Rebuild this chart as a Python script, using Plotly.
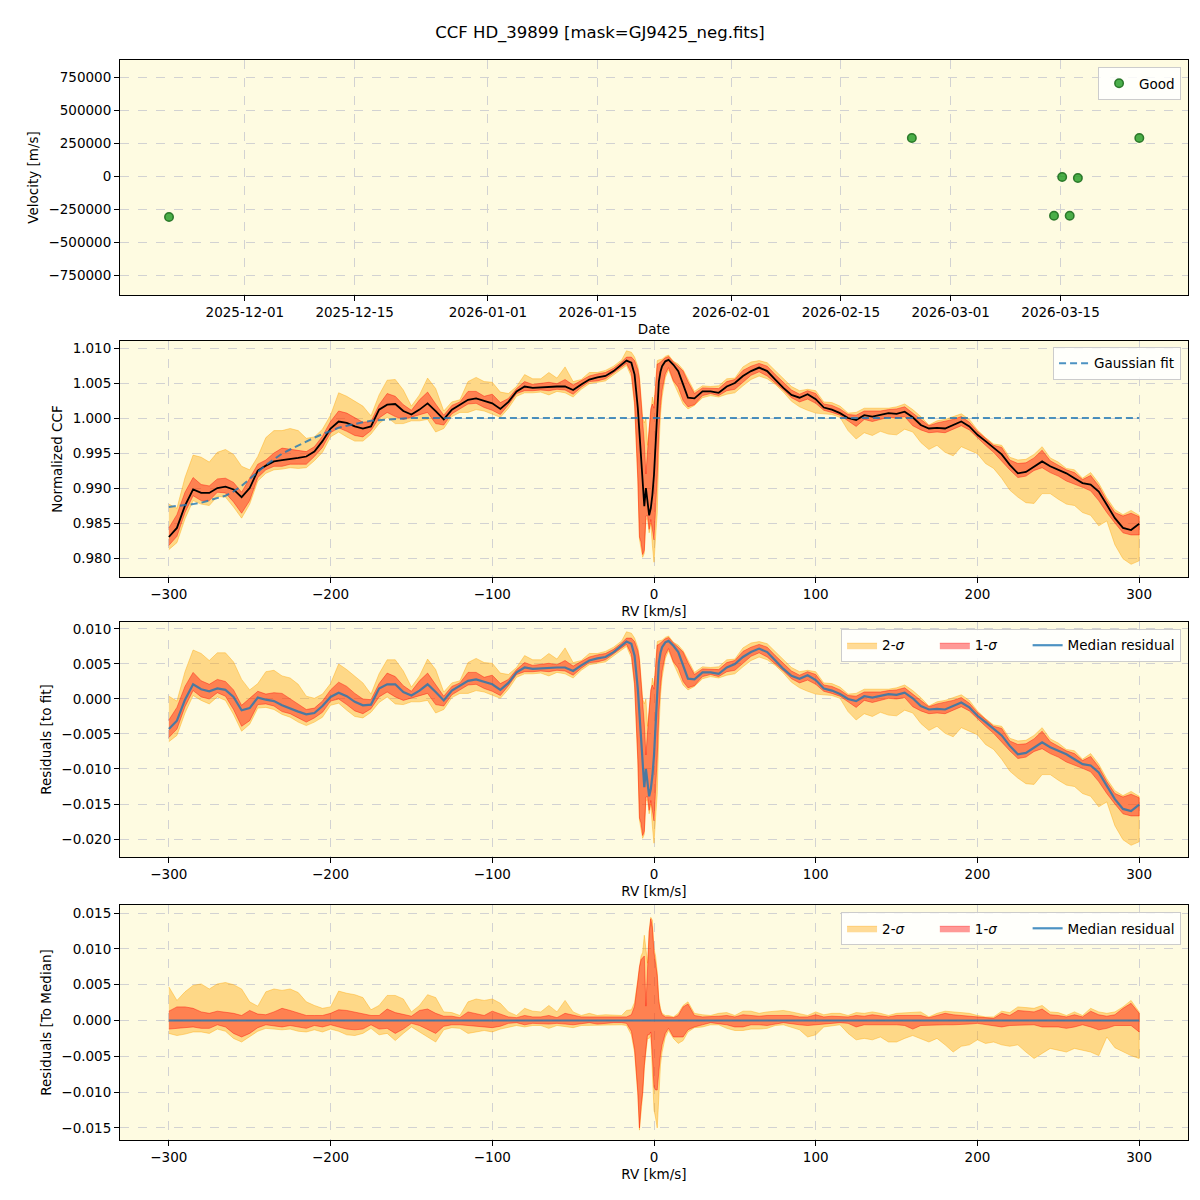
import numpy as np
import plotly.graph_objects as go

# ---------------- data: top panel (RV time series) ----------------
obs_dates = ["2025-11-21 08:00", "2026-02-24 01:00", "2026-03-14 04:00", "2026-03-15 05:00",
             "2026-03-16 04:00", "2026-03-17 05:00", "2026-03-25 01:00"]
obs_velocity = [-310600, 287900, -300500, -7600, -300500, -15200, 287900]
date_ticks = ["2025-12-01", "2025-12-15", "2026-01-01", "2026-01-15",
              "2026-02-01", "2026-02-15", "2026-03-01", "2026-03-15"]
vel_ticks = [-750000, -500000, -250000, 0, 250000, 500000, 750000]
vel_ticktext = ["\u2212750000", "\u2212500000", "\u2212250000", "0", "250000", "500000", "750000"]

# ---------------- data: CCF ----------------
rv = [-300, -295, -290, -285, -280, -275, -270, -265, -260, -255,
      -250, -245, -240, -235, -230, -225, -220, -215, -210, -205,
      -200, -195, -190, -185, -180, -175, -170, -165, -160, -155,
      -150, -145, -140, -135, -130, -125, -120, -115, -110, -105,
      -100, -95, -90, -85, -80, -75, -70, -65, -60, -55,
      -50, -45, -40, -35, -30, -25, -20,
      -17, -14, -12, -10, -9, -8, -7, -6, -5, -4, -3, -2, -1, 0, 1, 2, 3, 4, 5, 7, 9, 12, 15, 18, 21,
      25, 30, 35, 40, 45, 50, 55, 60, 65, 70,
      75, 80, 85, 90, 95, 100, 105, 110, 115, 120,
      125, 130, 135, 140, 145, 150, 155, 160, 165, 170,
      175, 180, 185, 190, 195, 200, 205, 210, 215, 220,
      225, 230, 235, 240, 245, 250, 255, 260, 265, 270,
      275, 280, 285, 290, 295, 300]

ccf_median = [0.9830, 0.9843, 0.9875, 0.9898, 0.9893, 0.9893, 0.9900, 0.9902, 0.9898, 0.9887,
              0.9900, 0.9925, 0.9932, 0.9938, 0.9940, 0.9941, 0.9943, 0.9945, 0.9952, 0.9967,
              0.9985, 0.9995, 0.9993, 0.9988, 0.9985, 0.9988, 1.0012, 1.0019, 1.0020, 1.0010,
              1.0005, 1.0012, 1.0021, 1.0010, 0.9998, 1.0012, 1.0019, 1.0026, 1.0028, 1.0024,
              1.0021, 1.0013, 1.0023, 1.0038, 1.0045, 1.0043, 1.0044, 1.0044, 1.0045, 1.0045,
              1.0040, 1.0048, 1.0055, 1.0058, 1.0060, 1.0067, 1.0076,
              1.0082, 1.0079, 1.0062, 1.0014, 0.9980, 0.9943, 0.9905, 0.9874, 0.9900, 0.9881,
              0.9861, 0.9871, 0.9890, 0.9919, 0.9967, 1.0014, 1.0052, 1.0066, 1.0074, 1.0081,
              1.0083, 1.0076, 1.0067, 1.0048, 1.0029,
              1.0028, 1.0038, 1.0038, 1.0036, 1.0045, 1.0050, 1.0060, 1.0067, 1.0072, 1.0067,
              1.0055, 1.0043, 1.0033, 1.0029, 1.0034, 1.0027, 1.0015, 1.0012, 1.0007, 1.0000,
              0.9997, 1.0004, 1.0002, 1.0004, 1.0007, 1.0006, 1.0009, 1.0001, 0.9990, 0.9985,
              0.9986, 0.9985, 0.9990, 0.9995, 0.9988, 0.9976, 0.9967, 0.9958, 0.9948, 0.9933,
              0.9921, 0.9923, 0.9931, 0.9938, 0.9931, 0.9926, 0.9921, 0.9914, 0.9907, 0.9905,
              0.9895, 0.9876, 0.9857, 0.9843, 0.9840, 0.9849]

gauss_fit = [0.9873, 0.9874, 0.9876, 0.9877, 0.9879, 0.9882, 0.9885, 0.9889, 0.9895, 0.9903,
             0.9913, 0.9923, 0.9933, 0.9941, 0.9949, 0.9955, 0.9961, 0.9967, 0.9972, 0.9977,
             0.9982, 0.9986, 0.9989, 0.9992, 0.9994, 0.9996, 0.9997, 0.9998, 0.9999, 1.0000,
             1.0000, 1.0000, 1.0000, 1.0000, 1.0000, 1.0000, 1.0000, 1.0000, 1.0000, 1.0000,
             1.0000, 1.0000, 1.0000, 1.0000, 1.0000, 1.0000, 1.0000, 1.0000, 1.0000, 1.0000,
             1.0000, 1.0000, 1.0000, 1.0000, 1.0000, 1.0000, 1.0000,
             1.0000, 1.0000, 1.0000, 1.0000, 1.0000, 1.0000, 1.0000, 1.0000, 1.0000, 1.0000,
             1.0000, 1.0000, 1.0000, 1.0000, 1.0000, 1.0000, 1.0000, 1.0000, 1.0000, 1.0000,
             1.0000, 1.0000, 1.0000, 1.0000, 1.0000,
             1.0000, 1.0000, 1.0000, 1.0000, 1.0000, 1.0000, 1.0000, 1.0000, 1.0000, 1.0000,
             1.0000, 1.0000, 1.0000, 1.0000, 1.0000, 1.0000, 1.0000, 1.0000, 1.0000, 1.0000,
             1.0000, 1.0000, 1.0000, 1.0000, 1.0000, 1.0000, 1.0000, 1.0000, 1.0000, 1.0000,
             1.0000, 1.0000, 1.0000, 1.0000, 1.0000, 1.0000, 1.0000, 1.0000, 1.0000, 1.0000,
             1.0000, 1.0000, 1.0000, 1.0000, 1.0000, 1.0000, 1.0000, 1.0000, 1.0000, 1.0000,
             1.0000, 1.0000, 1.0000, 1.0000, 1.0000, 1.0000]

# band offsets relative to the median, in units of 1e-3
sig2_hi = [4.7, 2.8, 4.0, 4.9, 5.1, 4.4, 5.1, 5.3, 5.0, 4.4,
           2.6, 2.0, 4.0, 4.4, 4.2, 4.4, 3.9, 2.6, 2.1, 1.7,
           1.9, 4.1, 3.8, 3.6, 3.2, 1.5, 2.1, 3.5, 3.5, 3.0,
           1.2, 2.1, 3.6, 3.2, 1.2, 1.1, 0.7, 2.6, 3.0, 2.8,
           3.0, 2.4, 1.2, 0.7, 1.7, 1.3, 1.2, 2.1, 1.2, 2.8,
           1.2, 0.7, 1.0, 0.7, 0.8, 0.7, 0.7,
           1.4, 1.5, 2.5, 6.0, 8.0, 9.0, 9.5, 11.9, 10.0, 8.0, 12.5, 14.4, 14.0, 10.0, 9.0, 6.8,
           3.1, 1.7, 1.0, 0.7, 0.7, 0.5, 1.0, 2.1, 2.6,
           1.0, 0.8, 0.7, 1.0, 1.1, 0.7, 1.3, 1.3, 1.0, 1.2,
           1.3, 1.4, 1.2, 1.0, 0.7, 1.2, 0.8, 1.0, 1.0, 0.7,
           1.1, 1.0, 1.2, 1.0, 0.7, 1.0, 1.1, 1.1, 1.2, 0.5,
           1.0, 1.3, 1.2, 1.1, 1.0, 0.7, 0.5, 0.5, 1.3, 1.1,
           1.9, 1.8, 1.7, 2.1, 1.2, 1.1, 0.7, 1.2, 0.7, 1.7,
           1.2, 1.0, 1.2, 1.9, 2.8, 1.2]
sig1_hi = [1.3, 1.9, 1.9, 1.7, 1.2, 1.0, 1.3, 1.2, 1.0, 0.7,
           1.4, 0.9, 0.8, 1.2, 1.7, 1.4, 1.1, 0.7, 0.7, 0.7,
           1.0, 1.5, 1.4, 1.2, 0.9, 0.7, 0.7, 1.6, 1.1, 0.9,
           0.6, 1.4, 1.6, 1.0, 0.6, 0.6, 0.4, 1.2, 1.0, 0.7,
           1.3, 0.9, 0.5, 0.4, 0.7, 0.5, 0.5, 0.7, 0.4, 1.0,
           0.7, 0.5, 0.5, 0.5, 0.5, 0.4, 0.4,
           0.5, 0.8, 2.0, 5.5, 7.5, 8.5, 8.8, 9.0, 2.0, 6.5, 12.3, 14.2, 13.0, 9.5, 8.0, 6.3,
           2.6, 1.4, 0.8, 0.5, 0.5, 0.4, 0.7, 1.9, 2.3,
           0.7, 0.5, 0.5, 0.6, 0.7, 0.5, 0.8, 0.7, 0.6, 0.7,
           0.7, 0.8, 0.7, 0.5, 0.5, 0.8, 0.5, 0.6, 0.6, 0.5,
           0.7, 0.6, 0.8, 0.6, 0.5, 0.7, 0.7, 0.6, 0.7, 0.4,
           0.7, 1.0, 0.8, 0.7, 0.6, 0.5, 0.4, 0.3, 1.0, 0.7,
           1.4, 1.3, 1.2, 1.6, 0.8, 0.7, 0.5, 0.8, 0.5, 1.3,
           0.8, 0.6, 0.8, 1.7, 2.4, 1.0]
sig1_lo = [-1.2, -1.2, -1.0, -0.9, -1.1, -1.1, -0.6, -0.9, -1.8, -2.3,
           -1.8, -1.0, -0.6, -0.7, -0.9, -0.7, -0.9, -1.1, -0.7, -0.9,
           -0.6, -0.9, -1.2, -1.3, -1.2, -0.6, -1.2, -1.1, -1.8, -1.2,
           -0.4, -0.7, -1.3, -1.8, -0.8, -0.6, -0.6, -0.6, -0.7, -0.9,
           -1.0, -0.8, -0.4, -0.3, -0.6, -0.4, -0.4, -0.5, -0.4, -0.5,
           -0.6, -0.4, -0.3, -0.5, -0.4, -0.3, -0.3,
           -0.4, -1.5, -4.0, -10.0, -15.0, -12.0, -10.0, -6.3, -4.0, -2.0, -2.0, -1.6, -4.9, -9.3,
           -9.7, -9.7, -7.1, -4.8, -3.4, -1.8, -1.1, -2.3, -2.3, -2.3, -1.3,
           -0.9, -0.6, -0.3, -0.4, -0.6, -0.9, -0.9, -0.6, -0.6, -0.7,
           -0.5, -0.3, -0.4, -0.6, -0.7, -0.6, -0.4, -0.4, -0.3, -0.4,
           -0.9, -0.6, -0.7, -0.6, -0.6, -0.6, -0.7, -1.2, -0.7, -0.6,
           -0.6, -0.6, -0.6, -0.6, -0.5, -0.4, -0.6, -0.7, -0.9, -0.7,
           -0.6, -0.6, -0.6, -0.9, -0.9, -0.9, -1.1, -0.9, -0.6, -0.9,
           -1.3, -1.1, -0.7, -0.7, -0.7, -1.6]
sig2_lo = [-1.8, -2.1, -1.9, -1.6, -1.6, -1.8, -1.2, -1.5, -2.5, -3.0,
           -2.3, -1.5, -1.1, -1.2, -1.3, -1.2, -1.5, -1.6, -1.3, -1.6,
           -1.2, -1.5, -2.0, -2.1, -1.8, -1.1, -2.0, -1.8, -2.8, -1.8,
           -0.9, -1.6, -2.3, -3.0, -1.3, -1.0, -1.1, -1.8, -1.6, -1.4,
           -1.6, -1.2, -0.9, -0.7, -0.9, -0.7, -0.7, -1.1, -0.7, -0.9,
           -1.0, -0.7, -0.6, -0.7, -0.7, -0.6, -0.6,
           -0.7, -2.0, -4.5, -10.5, -15.3, -12.5, -10.4, -6.7, -4.5, -2.5, -2.5, -2.1, -7.2, -12.5,
           -13.6, -15.0, -9.9, -6.2, -4.4, -2.3, -1.4, -2.5, -3.2, -2.8, -1.6,
           -1.0, -0.9, -0.6, -0.6, -1.1, -1.4, -1.4, -1.2, -1.2, -1.1,
           -0.7, -0.6, -0.9, -1.3, -2.3, -2.0, -0.9, -0.7, -0.6, -1.8,
           -2.7, -2.5, -2.7, -2.3, -3.0, -3.0, -2.5, -2.1, -2.5, -3.0,
           -2.5, -3.4, -4.4, -3.6, -3.4, -2.7, -3.2, -3.0, -3.4, -3.6,
           -3.4, -4.4, -5.3, -4.6, -3.9, -4.2, -4.4, -3.9, -4.2, -4.4,
           -4.9, -2.3, -3.8, -4.4, -4.9, -5.3]

rv_ticks = [-300, -200, -100, 0, 100, 200, 300]

# ---------------- derived arrays ----------------
rv_a = np.array(rv, dtype=float)
med = np.array(ccf_median)
fit = np.array(gauss_fit)
s2h = np.array(sig2_hi) * 1e-3
s1h = np.array(sig1_hi) * 1e-3
s1l = np.array(sig1_lo) * 1e-3
s2l = np.array(sig2_lo) * 1e-3
res = med - fit
zero_line = np.zeros_like(med)

# ---------------- styling ----------------
FONT = "DejaVu Sans"
BG = "#FEFBE1"
C0 = "rgba(31,119,180,0.8)"
ORANGE_F = "rgba(255,165,0,0.4)"
RED_F = "rgba(255,0,0,0.4)"
PAD = "\u00a0" * 6
LBL2 = "2-<i>σ</i>" + PAD
LBL1 = "1-<i>σ</i>" + PAD

fig = go.Figure()


def band(upper, lower, axis_x, axis_y, fillcolor, name, legend, showlegend):
    xs = np.concatenate([rv_a, rv_a[::-1]])
    ys = np.concatenate([upper, lower[::-1]])
    fig.add_trace(go.Scatter(x=xs, y=ys, mode="lines", fill="toself", fillcolor=fillcolor,
                             line=dict(color=fillcolor, width=1), name=name,
                             legend=legend, showlegend=showlegend, hoverinfo="skip",
                             xaxis=axis_x, yaxis=axis_y))


# Panel 1
fig.add_trace(go.Scatter(x=obs_dates, y=obs_velocity, mode="markers", name="Good",
                         marker=dict(color="rgba(44,160,44,0.85)", size=8.5,
                                     line=dict(color="rgba(30,110,30,0.9)", width=1.5)),
                         xaxis="x", yaxis="y", legend="legend"))

# Panel 2
band(med + s2h, med + s2l, "x2", "y2", ORANGE_F, LBL2, "legend2", False)
band(med + s1h, med + s1l, "x2", "y2", RED_F, LBL1, "legend2", False)
fig.add_trace(go.Scatter(x=rv_a, y=med, mode="lines", line=dict(color="black", width=1.8),
                         showlegend=False, xaxis="x2", yaxis="y2"))
fig.add_trace(go.Scatter(x=rv_a, y=fit, mode="lines", name="Gaussian fit",
                         line=dict(color=C0, width=2, dash="7px,4px"),
                         xaxis="x2", yaxis="y2", legend="legend2"))

# Panel 3
band(res + s2h, res + s2l, "x3", "y3", ORANGE_F, LBL2, "legend3", True)
band(res + s1h, res + s1l, "x3", "y3", RED_F, LBL1, "legend3", True)
fig.add_trace(go.Scatter(x=rv_a, y=res, mode="lines", name="Median residual",
                         line=dict(color=C0, width=2.2), xaxis="x3", yaxis="y3", legend="legend3"))

# Panel 4
band(zero_line + s2h, zero_line + s2l, "x4", "y4", ORANGE_F, LBL2, "legend4", True)
band(zero_line + s1h, zero_line + s1l, "x4", "y4", RED_F, LBL1, "legend4", True)
fig.add_trace(go.Scatter(x=rv_a, y=zero_line, mode="lines", name="Median residual",
                         line=dict(color=C0, width=2.2), xaxis="x4", yaxis="y4", legend="legend4"))

axis_common = dict(showline=True, linecolor="black", linewidth=1, mirror=True,
                   ticks="outside", ticklen=5, tickcolor="black", tickwidth=1,
                   showgrid=True, gridcolor="#d2d2d2", griddash="dash", gridwidth=0.8,
                   zeroline=False, tickfont=dict(size=13.5, color="black", family=FONT),
                   title_font=dict(size=13.5, color="black", family=FONT))

doms = {1: [0.78241, 1.0], 2: [0.52130, 0.73981], 3: [0.26204, 0.47963], 4: [0.0, 0.21759]}

layout = dict(
    width=1200, height=1200,
    margin=dict(l=120, r=12, t=60, b=60),
    paper_bgcolor="white", plot_bgcolor=BG,
    font=dict(family=FONT, size=13.5, color="black"),
    title=dict(text="CCF HD_39899 [mask=GJ9425_neg.fits]", x=0.5, xanchor="center",
               y=1 - 32 / 1200, yanchor="middle", font=dict(size=16.5, family=FONT)),
    xaxis=dict(axis_common, domain=[0, 1], anchor="y", type="date",
               range=["2025-11-15 02:00", "2026-03-31 06:00"],
               tickvals=date_ticks, ticktext=date_ticks, title=dict(text="Date", standoff=5)),
    yaxis=dict(axis_common, domain=doms[1], anchor="x", range=[-901500, 878800],
               tickvals=vel_ticks, ticktext=vel_ticktext,
               title=dict(text="Velocity [m/s]", standoff=6)),
    xaxis2=dict(axis_common, domain=[0, 1], anchor="y2", range=[-330.2, 330.2],
                tickvals=rv_ticks, title=dict(text="RV [km/s]", standoff=5)),
    yaxis2=dict(axis_common, domain=doms[2], anchor="x2", range=[0.97729, 1.0110],
                dtick=0.005, tick0=1.0, tickformat=".3f",
                title=dict(text="Normalized CCF", standoff=6)),
    xaxis3=dict(axis_common, domain=[0, 1], anchor="y3", range=[-330.2, 330.2],
                tickvals=rv_ticks, title=dict(text="RV [km/s]", standoff=5)),
    yaxis3=dict(axis_common, domain=doms[3], anchor="x3", range=[-0.02257, 0.0110],
                dtick=0.005, tick0=0.0, tickformat=".3f",
                title=dict(text="Residuals [to fit]", standoff=6)),
    xaxis4=dict(axis_common, domain=[0, 1], anchor="y4", range=[-330.2, 330.2],
                tickvals=rv_ticks, title=dict(text="RV [km/s]", standoff=5)),
    yaxis4=dict(axis_common, domain=doms[4], anchor="x4", range=[-0.01668, 0.01612],
                dtick=0.005, tick0=0.0, tickformat=".3f",
                title=dict(text="Residuals [To Median]", standoff=6)),
)

leg_common = dict(xanchor="right", yanchor="top", x=0.9935, bgcolor="rgba(255,255,255,0.85)",
                  bordercolor="#cccccc", borderwidth=1, font=dict(size=13.5, family=FONT))
layout["legend"] = dict(leg_common, y=0.9935)
layout["legend2"] = dict(leg_common, y=0.7343)
layout["legend3"] = dict(leg_common, y=0.4732, orientation="h", traceorder="normal")
layout["legend4"] = dict(leg_common, y=0.2111, orientation="h", traceorder="normal")

fig.update_layout(**layout)
fig.write_html("out.html")
